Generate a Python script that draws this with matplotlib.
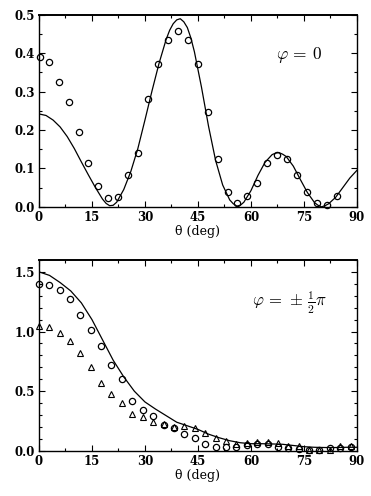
import numpy as np
import matplotlib
matplotlib.use("Agg")
import matplotlib.pyplot as plt
from matplotlib.ticker import MultipleLocator

# ---- top panel (phi = 0) ----
top_theta_pts = [0.3, 2.8, 5.6, 8.4, 11.2, 14.0, 16.8, 19.6, 22.4, 25.2,
                 28.0, 30.9, 33.7, 36.5, 39.3, 42.1, 44.9, 47.8, 50.6, 53.4,
                 56.2, 59.0, 61.8, 64.6, 67.4, 70.2, 73.1, 75.9, 78.7, 81.5, 84.3]
top_vals_pts = [0.389, 0.376, 0.326, 0.272, 0.194, 0.115, 0.054, 0.024, 0.026, 0.082,
                0.139, 0.280, 0.372, 0.434, 0.457, 0.434, 0.373, 0.247, 0.125, 0.038,
                0.010, 0.027, 0.063, 0.115, 0.136, 0.125, 0.083, 0.039, 0.010, 0.005, 0.027]

top_theta_curve = [0, 2, 4, 6, 8, 10, 12, 14, 16, 18, 19, 20, 21, 22, 24, 26, 28, 30,
                   32, 34, 36, 37, 38, 39, 40, 41, 42, 43, 44, 46, 48, 50, 52, 54, 55,
                   56, 57, 58, 60, 62, 64, 66, 67, 68, 69, 70, 72, 74, 76, 78, 79, 80,
                   81, 82, 84, 86, 88, 90]
top_vals_curve = [0.242, 0.238, 0.226, 0.208, 0.183, 0.152, 0.117, 0.083, 0.050, 0.020,
                  0.009, 0.003, 0.004, 0.012, 0.045, 0.092, 0.152, 0.226, 0.302, 0.374,
                  0.436, 0.460, 0.477, 0.487, 0.490, 0.482, 0.467, 0.440, 0.404, 0.312,
                  0.210, 0.121, 0.057, 0.018, 0.008, 0.002, 0.004, 0.012, 0.042, 0.082,
                  0.116, 0.136, 0.140, 0.141, 0.137, 0.131, 0.106, 0.071, 0.037, 0.011,
                  0.004, 0.000, 0.003, 0.008, 0.025, 0.050, 0.075, 0.095]

# ---- bottom panel (phi = +-pi/2) ----
bot_theta_pts = [0.0, 2.9, 5.9, 8.8, 11.7, 14.6, 17.6, 20.5, 23.5, 26.4,
                 29.4, 32.3, 35.3, 38.2, 41.1, 44.1, 47.0, 50.0, 52.9, 55.8,
                 58.8, 61.7, 64.7, 67.6, 70.5, 73.5, 76.4, 79.4, 82.3, 85.3, 88.2]
bot_circles = [1.40, 1.39, 1.35, 1.27, 1.14, 1.01, 0.88, 0.72, 0.60, 0.42,
               0.345, 0.29, 0.22, 0.19, 0.145, 0.11, 0.06, 0.035, 0.035, 0.035,
               0.045, 0.055, 0.055, 0.035, 0.025, 0.015, 0.006, 0.006, 0.028, 0.028, 0.033]
bot_triangles = [1.05, 1.04, 0.99, 0.92, 0.82, 0.70, 0.57, 0.475, 0.40, 0.31,
                 0.28, 0.24, 0.225, 0.20, 0.21, 0.19, 0.15, 0.11, 0.083, 0.061,
                 0.067, 0.075, 0.072, 0.064, 0.044, 0.039, 0.011, 0.006, 0.011, 0.039, 0.042]

bot_theta_curve = [0, 3, 6, 9, 12, 15, 18, 21, 24, 27, 30, 33, 36, 39, 42, 45,
                   48, 51, 54, 57, 60, 63, 66, 69, 72, 75, 78, 81, 84, 87, 90]
bot_vals_curve = [1.50, 1.47, 1.41, 1.34, 1.24, 1.10, 0.93, 0.76, 0.62, 0.50,
                  0.41, 0.35, 0.295, 0.24, 0.21, 0.18, 0.14, 0.11, 0.085, 0.068,
                  0.060, 0.060, 0.058, 0.055, 0.045, 0.035, 0.030, 0.028, 0.028, 0.030, 0.030]

x_ticks = [0, 15, 30, 45, 60, 75, 90]

plt.rcParams['font.family'] = 'DejaVu Serif'
plt.rcParams['mathtext.fontset'] = 'cm'

fig = plt.figure(figsize=(3.71, 4.96), dpi=100)
ax_top = fig.add_axes([0.105, 0.583, 0.857, 0.387])
ax_bot = fig.add_axes([0.105, 0.091, 0.857, 0.385])


def style_axes(ax, ymax, ymajor, yminor, yfmt):
    ax.set_xlim(0, 90)
    ax.set_ylim(0, ymax)
    ax.set_xticks(x_ticks)
    ax.xaxis.set_minor_locator(MultipleLocator(7.5))
    ax.yaxis.set_major_locator(MultipleLocator(ymajor))
    ax.yaxis.set_minor_locator(MultipleLocator(yminor))
    ax.yaxis.set_major_formatter(plt.FormatStrFormatter(yfmt))
    ax.tick_params(which='both', direction='in', top=True, right=True,
                   width=0.8, labelsize=8.5, pad=3)
    ax.tick_params(which='major', length=4)
    ax.tick_params(which='minor', length=2)
    for lab in ax.get_xticklabels() + ax.get_yticklabels():
        lab.set_fontweight('bold')
    for sp in ax.spines.values():
        sp.set_linewidth(1.0)
    ax.spines['top'].set_linewidth(1.4)
    ax.set_xlabel('θ (deg)', fontsize=9, labelpad=1)


# top panel
ax_top.plot(top_theta_curve, top_vals_curve, color='black', lw=0.9)
ax_top.plot(top_theta_pts, top_vals_pts, 'o', mfc='none', mec='black',
            ms=4.5, mew=0.9, clip_on=False)
style_axes(ax_top, 0.5, 0.1, 0.05, '%.1f')
ax_top.text(73.5, 0.396, r'$\varphi\,=\,0$', fontsize=12.5, ha='center', va='center')

# bottom panel
ax_bot.plot(bot_theta_curve, bot_vals_curve, color='black', lw=0.9)
ax_bot.plot(bot_theta_pts, bot_circles, 'o', mfc='none', mec='black',
            ms=4.5, mew=0.9, clip_on=False)
ax_bot.plot(bot_theta_pts, bot_triangles, '^', mfc='none', mec='black',
            ms=3.7, mew=0.8, clip_on=False)
style_axes(ax_bot, 1.6, 0.5, 0.1, '%.1f')
ax_bot.text(71, 1.24, r'$\varphi\,=\,\pm\,\frac{1}{2}\pi$', fontsize=12,
            ha='center', va='center')

fig.savefig('out.png', dpi=100)
